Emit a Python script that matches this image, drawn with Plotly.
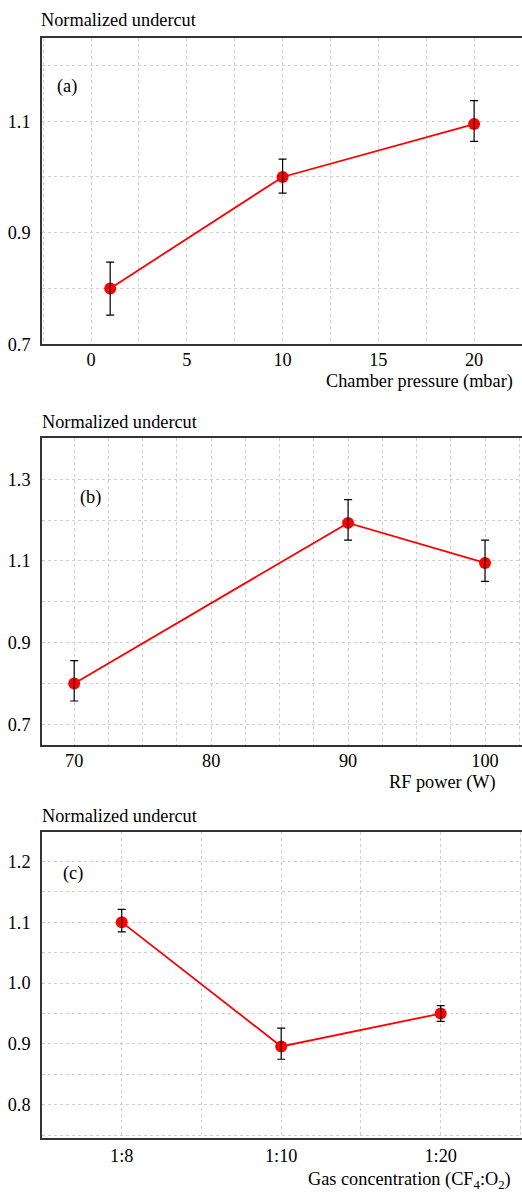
import plotly.graph_objects as go
from plotly.subplots import make_subplots

# Panel (a)
pressure = [1, 10, 20]
undercut_a = [0.800, 1.000, 1.095]
err_a_plus = [0.047, 0.032, 0.042]
err_a_minus = [0.048, 0.029, 0.031]

# Panel (b)
rf_power = [70, 90, 100]
undercut_b = [0.800, 1.193, 1.095]
err_b_plus = [0.056, 0.057, 0.056]
err_b_minus = [0.043, 0.042, 0.045]

# Panel (c)
gas_labels = ["1:8", "1:10", "1:20"]
gas_pos = [0, 1, 2]
undercut_c = [1.100, 0.896, 0.950]
err_c_plus = [0.021, 0.030, 0.013]
err_c_minus = [0.016, 0.021, 0.013]

FONT = "Liberation Serif, Times New Roman, serif"
FS = 18.3
RED = "#ff0000"
GRID = "#cfcfcf"

fig = make_subplots(rows=3, cols=1)

def add_panel(row, x, y, ep, em):
    fig.add_trace(go.Scatter(x=x, y=y, mode="lines+markers",
                             line=dict(color=RED, width=1.8),
                             marker=dict(color=RED, size=12),
                             showlegend=False, hoverinfo="skip"), row=row, col=1)
    fig.add_trace(go.Scatter(x=x, y=y, mode="markers",
                             marker=dict(color=RED, size=1, opacity=0),
                             error_y=dict(type="data", array=ep, arrayminus=em,
                                          color="black", thickness=1.2, width=4),
                             showlegend=False, hoverinfo="skip"), row=row, col=1)

add_panel(1, pressure, undercut_a, err_a_plus, err_a_minus)
add_panel(2, rf_power, undercut_b, err_b_plus, err_b_minus)
add_panel(3, gas_pos, undercut_c, err_c_plus, err_c_minus)

H = 1198.0
W = 522.0
def ydom(top, bottom):
    return [1 - bottom / H, 1 - top / H]

xdom = [42 / W, 1.0]
grid = dict(showgrid=True, gridcolor=GRID, griddash="dot", gridwidth=1)
axline = dict(showline=True, linecolor="#333333", linewidth=1.5, ticks="",
              zeroline=False, tickfont=dict(family=FONT, size=FS, color="black"))

def minor(dt, t0):
    return dict(dtick=dt, tick0=t0, showgrid=True, gridcolor=GRID, griddash="dot", gridwidth=1)

fig.update_layout(
    width=522, height=1198, margin=dict(l=0, r=0, t=0, b=0),
    paper_bgcolor="white", plot_bgcolor="white",
    font=dict(family=FONT, size=FS, color="black"),
    xaxis=dict(domain=xdom, range=[-2.56, 22.5], dtick=5, tick0=0, mirror=True,
               ticklabelstandoff=-2, minor=minor(2.5, 0), **grid, **axline),
    yaxis=dict(domain=ydom(38, 347), range=[0.7, 1.25], dtick=0.2, tick0=0.7,
               tickformat=".1f", ticklabelstandoff=6, minor=minor(0.1, 0.7), **grid, **axline),
    xaxis2=dict(domain=xdom, range=[67.65, 102.7], dtick=10, tick0=70, mirror=True,
                ticklabelstandoff=-1, minor=minor(2.5, 70), **grid, **axline),
    yaxis2=dict(domain=ydom(442, 751), range=[0.65, 1.40], dtick=0.2, tick0=0.7,
                tickformat=".1f", ticklabelstandoff=6, minor=minor(0.1, 0.7), **grid, **axline),
    xaxis3=dict(domain=xdom, range=[-0.5, 2.51], tickvals=gas_pos, ticktext=gas_labels, mirror=True,
                minor=minor(0.5, 0), **grid, **axline),
    yaxis3=dict(domain=ydom(839, 1148), range=[0.745, 1.248], dtick=0.1, tick0=0.8,
                tickformat=".1f", ticklabelstandoff=6, minor=minor(0.05, 0.8), **grid, **axline),
)

def ann(text, x, y, xanchor="left", yanchor="middle"):
    fig.add_annotation(text=text, x=x, y=y, xref="paper", yref="paper", showarrow=False,
                       xanchor=xanchor, yanchor=yanchor, borderpad=0,
                       font=dict(family=FONT, size=FS, color="black"))

# y-axis titles above plots
ann("Normalized undercut", 40 / W, 1 - 20 / H)
ann("Normalized undercut", 41 / W, 1 - 426 / H)
ann("Normalized undercut", 41 / W, 1 - 823 / H)

# x-axis titles bottom right
ann("Chamber pressure (mbar)", 514 / W, 1 - 385 / H, xanchor="right")
ann("RF power (W)", 497 / W, 1 - 789 / H, xanchor="right")
ann("Gas concentration (CF<sub>4</sub>:O<sub>2</sub>)", 512 / W, 1 - 1190 / H, xanchor="right")

# panel labels
ann("(a)", 56 / W, 1 - 87 / H)
ann("(b)", 79 / W, 1 - 502 / H)
ann("(c)", 62 / W, 1 - 881 / H)

fig.write_html("out.html")
